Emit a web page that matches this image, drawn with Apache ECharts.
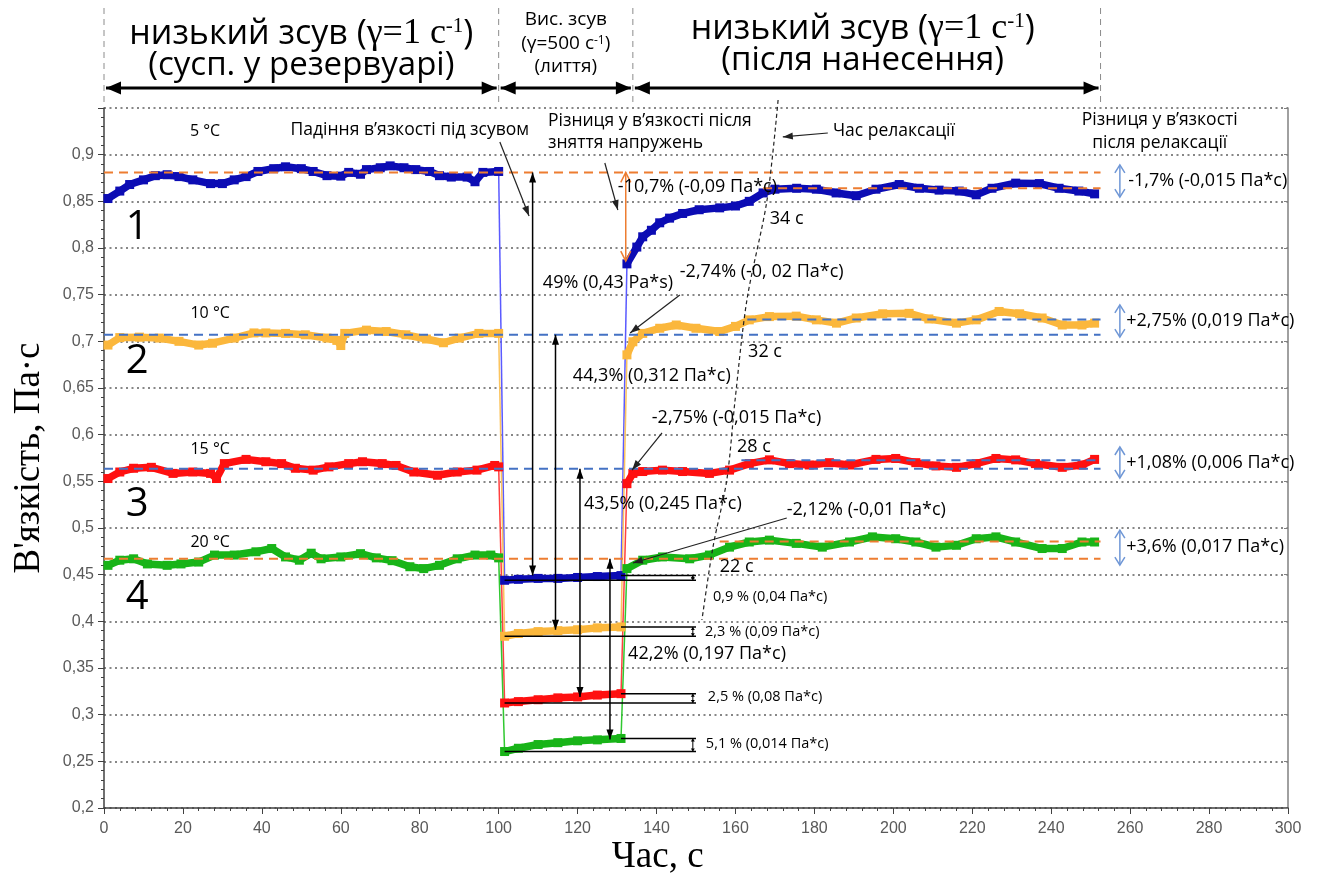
<!DOCTYPE html>
<html><head><meta charset="utf-8">
<script src="https://cdn.jsdelivr.net/npm/echarts@6/dist/echarts.min.js"></script>
<style>html,body{margin:0;padding:0;background:#fff}#c{width:1325px;height:877px}</style>
</head><body><div id="c"></div>
<script>
// ---------- DATA (time, s ; viscosity, Pa·s) ----------
// curve 1 (5 °C)
const blue1 = [[1,0.853],[4,0.861],[6.5,0.868],[10,0.873],[13,0.8775],[16,0.8785],[19,0.8765],[22.5,0.873],[27,0.869],[30,0.869],[33,0.873],[36,0.8765],[39,0.882],[43,0.885],[46,0.887],[50,0.885],[53,0.882],[56.5,0.8775],[60,0.877],[62,0.881],[65,0.879],[66.5,0.884],[70,0.886],[72.5,0.888],[76,0.886],[79,0.884],[82.5,0.882],[85,0.8775],[88,0.876],[92,0.876],[94,0.871],[96,0.881],[100,0.882]];
const blue2 = [[101.5,0.444],[105,0.445],[110,0.446],[115,0.446],[120,0.447],[125,0.448],[131,0.449]];
const blue3 = [[132.5,0.783],[135,0.801],[136.5,0.812],[138.7,0.819],[140.8,0.827],[143.3,0.832],[146.6,0.837],[150.8,0.841],[156,0.843],[160,0.845],[163.5,0.850],[167,0.859],[170,0.863],[175.5,0.864],[180.5,0.863],[185.5,0.859],[190.6,0.856],[195.6,0.863],[201.5,0.868],[206.6,0.864],[211.6,0.862],[216.7,0.861],[221,0.857],[225,0.864],[231,0.8695],[237,0.869],[242,0.864],[247,0.861],[251,0.858]];
// curve 2 (10 °C)
const yellow1 = [[1,0.696],[4,0.704],[9,0.7045],[14,0.7035],[19,0.700],[24,0.696],[27.5,0.698],[33,0.7035],[38,0.709],[41,0.709],[46,0.7085],[51,0.707],[56.5,0.7035],[59,0.701],[60,0.6955],[61,0.7085],[66.5,0.712],[71.5,0.7105],[76.5,0.707],[81.7,0.7025],[86,0.6985],[90,0.7035],[95,0.7085],[100,0.7085]];
const yellow2 = [[101.5,0.384],[105,0.387],[110,0.389],[115,0.390],[120,0.391],[125,0.393],[131,0.394]];
const yellow3 = [[132.5,0.6855],[134,0.6995],[136.5,0.7085],[140.8,0.714],[145,0.7175],[150,0.714],[156,0.7105],[160,0.716],[163.5,0.723],[168.6,0.7265],[175.4,0.727],[180.5,0.723],[185.6,0.7195],[190.6,0.725],[197.3,0.7295],[204,0.730],[209,0.724],[216,0.7195],[221,0.723],[226.8,0.732],[232,0.7295],[237.7,0.725],[242.8,0.7175],[247.8,0.7175],[251,0.7195]];
// curve 3 (15 °C)
const red1 = [[1,0.553],[4,0.560],[7.5,0.564],[12,0.565],[17.5,0.5585],[22.5,0.560],[27,0.5585],[28.5,0.553],[30.5,0.569],[36,0.5735],[41,0.571],[45,0.569],[48.5,0.564],[53,0.562],[57,0.5655],[62,0.569],[65.5,0.571],[70.5,0.569],[74,0.567],[78.5,0.560],[84.5,0.5565],[89.5,0.560],[94.5,0.562],[99,0.567],[100,0.5655]];
const red2 = [[101.5,0.3125],[105,0.314],[110,0.316],[115,0.318],[120,0.319],[125,0.321],[131,0.3225]];
const red3 = [[132.5,0.5475],[134,0.5585],[136.5,0.5605],[141.5,0.562],[146.6,0.5605],[153.4,0.5585],[158.5,0.562],[163.5,0.569],[168.6,0.573],[173.7,0.569],[178.7,0.5675],[183.8,0.570],[188.9,0.5675],[195.6,0.5735],[200.6,0.5745],[205.7,0.570],[210.8,0.5665],[216,0.565],[221,0.569],[226,0.5745],[231,0.573],[236,0.569],[242.8,0.565],[247.8,0.5675],[251,0.5735]];
// curve 4 (20 °C)
const green1 = [[1,0.460],[4,0.4655],[7.5,0.467],[11,0.4615],[16,0.460],[19.5,0.4615],[24,0.4635],[28,0.471],[33,0.471],[38.5,0.4745],[42.5,0.478],[46,0.469],[49.5,0.4655],[52.5,0.473],[55,0.467],[60,0.469],[65,0.4725],[69,0.468],[73,0.465],[77.5,0.4585],[81,0.4565],[85,0.460],[89.5,0.467],[94,0.471],[98,0.471],[100,0.468]];
const green2 = [[101.5,0.2605],[105,0.264],[110,0.268],[115,0.270],[120,0.272],[125,0.273],[131,0.2745]];
const green3 = [[132.5,0.4565],[136.5,0.4655],[141.5,0.469],[148.4,0.467],[153.4,0.471],[158.5,0.4795],[163.5,0.485],[168.6,0.487],[175.4,0.4835],[182,0.4795],[188.9,0.485],[194.7,0.4905],[200.6,0.4885],[205.7,0.485],[210.8,0.4795],[216,0.4815],[221,0.4885],[226,0.4905],[231,0.485],[237.7,0.478],[242.8,0.478],[247.8,0.485],[251,0.485]];

// reference (dashed) levels: [value, tStart, tEnd]
const refBlue   = [[0.881,0,252.5],[0.864,167,252.5]];
const refYellow = [[0.707,0,252.5],[0.7235,163,252.5]];
const refRed    = [[0.5635,0,252.5],[0.5725,161.5,252.5]];
const refGreen  = [[0.467,0,252.5],[0.4855,156,252.5]];

// relaxation-time curve
const relaxLine = [[170.8,0.9586],[168,0.8514],[162.9,0.7443],[159.9,0.6371],[157.8,0.5514],[154.3,0.4796],[151.5,0.4014]];

// phase boundaries (s)
const phaseBounds = [0, 100, 134, 252.5];

// drop arrows: [t, from, to]
const dropArrows = [[108.6,0.881,0.449],[114.4,0.707,0.391],[120.6,0.5635,0.319],[128.2,0.467,0.2735]];
// pointer arrows: [t1,v1,t2,v2] (head at 2)
const pointerArrows = [[100.3,0.9136,107.7,0.8343],[126.9,0.8911,130.2,0.8407],[183.4,0.9232,172,0.919],[145.9,0.7496,133.3,0.7089],[141.4,0.6018,133.8,0.5621],[173,0.5107,134,0.4625]];
// orange recovery arrow [t, from, to]
const recoveryArrow = [132.2, 0.881, 0.786];
// right-side arrows [t, from, to]
const rightArrows = [[257.4,0.889,0.8546],[257.4,0.739,0.7046],[257.4,0.5868,0.5536],[257.4,0.4978,0.4603]];
const bracketEnd = 150;

// annotation texts: [text, t, v, size, align]
const notes = [
 ['5 °C', 25.6, 0.9254, 16, 'center'],
 ['10 °C', 26.9, 0.7303, 16, 'center'],
 ['15 °C', 26.9, 0.5846, 16, 'center'],
 ['20 °C', 26.9, 0.485, 16, 'center'],
 ['Падіння в’язкості під зсувом', 77.5, 0.9264, 17.5, 'center'],
 ['Різниця у в’язкості після', 112.5, 0.936, 17.5, 'left'],
 ['зняття напружень', 112.5, 0.9125, 17.5, 'left'],
 ['Час релаксації', 184.7, 0.9254, 17.5, 'left'],
 ['Різниця у в’язкості', 267.5, 0.937, 17.5, 'center'],
 ['після релаксації', 267.5, 0.9125, 17.5, 'center'],
 ['-10,7% (-0,09 Па*с)', 130.2, 0.8654, 18, 'left'],
 ['49% (0,43 Pa*s)', 111.2, 0.7625, 18, 'left'],
 ['-2,74% (-0, 02 Па*с)', 145.9, 0.7743, 18, 'left'],
 ['44,3% (0,312 Па*с)', 118.8, 0.6629, 18, 'left'],
 ['-2,75% (-0,015 Па*с)', 138.8, 0.6179, 18, 'left'],
 ['43,5% (0,245 Па*с)', 121.6, 0.5257, 18, 'left'],
 ['-2,12% (-0,01 Па*с)', 173, 0.5193, 18, 'left'],
 ['42,2% (0,197 Па*с)', 132.8, 0.365, 18, 'left'],
 ['0,9 % (0,04 Па*с)', 154.3, 0.426, 14.5, 'left'],
 ['2,3 % (0,09 Па*с)', 152.3, 0.3886, 14.5, 'left'],
 ['2,5 % (0,08 Па*с)', 153, 0.319, 14.5, 'left'],
 ['5,1 % (0,014 Па*с)', 152.5, 0.2686, 14.5, 'left'],
 ['34 с', 168.7, 0.831, 18, 'left'],
 ['32 с', 163.2, 0.6886, 18, 'left'],
 ['28 с', 160.4, 0.5868, 18, 'left'],
 ['22 с', 156, 0.4582, 18, 'left'],
 ['-1,7% (-0,015 Па*с)', 259.5, 0.8718, 18, 'left'],
 ['+2,75% (0,019 Па*с)', 259, 0.7218, 18, 'left'],
 ['+1,08% (0,006 Па*с)', 259, 0.5696, 18, 'left'],
 ['+3,6% (0,017 Па*с)', 259, 0.4796, 18, 'left'],
 ['1', 8.4, 0.8214, 40, 'center'],
 ['2', 8.4, 0.6779, 40, 'center'],
 ['3', 8.4, 0.5246, 40, 'center'],
 ['4', 8.4, 0.425, 40, 'center']
];
const xName = 'Час, с', xNameAt = 140.3;
const yName = 'В\'язкість, Па·с';

// ---------- CHART ----------
const FONT = "'Open Sans','Noto Sans',sans-serif";
const SERIF = "'Liberation Serif','DejaVu Serif',serif";
const ORANGE = '#ed7d31', DBLUE = '#4472c4';
const curves = [
  {segs:[blue1,blue2,blue3], color:'#0c0cb4', thin:'#5a5aff', refs:refBlue, refColor:ORANGE},
  {segs:[yellow1,yellow2,yellow3], color:'#fbb73c', thin:'#fbc45e', refs:refYellow, refColor:DBLUE},
  {segs:[red1,red2,red3], color:'#ff1010', thin:'#ff4040', refs:refRed, refColor:DBLUE},
  {segs:[green1,green2,green3], color:'#18b418', thin:'#30c830', refs:refGreen, refColor:ORANGE}
];
const fmt = v => { let s = (+v).toFixed(2); if (s.endsWith('0')) s = s.slice(0,-1); return s.replace('.', ','); };

const series = [];
curves.forEach(c => {
  c.segs.forEach(seg => series.push({type:'line', data:seg, symbol:'rect', symbolSize:9, showAllSymbol:true,
    lineStyle:{width:7.5, color:c.color}, itemStyle:{color:c.color}, z:4, silent:true, animation:false}));
  const s1 = c.segs[0], s2 = c.segs[1], s3 = c.segs[2];
  [[s1[s1.length-1], s2[0]], [s2[s2.length-1], s3[0]]].forEach(d =>
    series.push({type:'line', data:d, symbol:'none', lineStyle:{width:1.5, color:c.thin}, z:3, silent:true, animation:false}));
  c.refs.forEach(r => series.push({type:'line', data:[[r[1], r[0]], [r[2], r[0]]], symbol:'none',
    lineStyle:{width:2, color:c.refColor, type:[9,6]}, z:5, silent:true, animation:false}));
});
series.push({type:'line', data:relaxLine, symbol:'none', smooth:0.3, clip:false,
  lineStyle:{width:1.2, color:'#222', type:[4,3]}, z:6, silent:true, animation:false});

const chart = echarts.init(document.getElementById('c'));
chart.setOption({
  animation:false,
  backgroundColor:'#fff',
  grid:{left:104, right:37, top:108, bottom:69},
  xAxis:{type:'value', min:0, max:300, interval:20,
    axisLine:{onZero:false, lineStyle:{color:'#404040', width:1.5}},
    axisTick:{length:6, lineStyle:{color:'#404040'}},
    minorTick:{show:true, splitNumber:5, length:3, lineStyle:{color:'#404040'}},
    splitLine:{show:false},
    axisLabel:{color:'#595959', fontSize:16, fontFamily:'Liberation Sans', margin:13}},
  yAxis:[{type:'value', min:0.2, max:0.95, interval:0.05,
    axisLine:{show:true, onZero:false, lineStyle:{color:'#404040', width:1.5}},
    axisTick:{show:true, length:6, lineStyle:{color:'#404040'}},
    minorTick:{show:true, splitNumber:5, length:3, lineStyle:{color:'#404040'}},
    splitLine:{show:true, lineStyle:{type:[2,3.5], color:'#606060', width:1.5}},
    axisLabel:{formatter:fmt, showMaxLabel:false, color:'#595959', fontSize:16, fontFamily:'Liberation Sans', margin:10},
    name:yName, nameLocation:'middle', nameGap:56, nameRotate:90,
    nameTextStyle:{fontFamily:SERIF, fontSize:37, color:'#000'}},
   {type:'value', min:0.2, max:0.95, interval:0.05, position:'right',
    axisLine:{show:true, onZero:false, lineStyle:{color:'#808080', width:1.5}},
    axisTick:{show:true, inside:true, length:4, lineStyle:{color:'#808080'}},
    axisLabel:{show:false}, splitLine:{show:false}}],
  series: series
});

// ---------- ANNOTATIONS ----------
const P = (t, v) => chart.convertToPixel({xAxisIndex:0, yAxisIndex:0}, [t, v]);
const G = [];
function seg(a, b, stroke, w, dash) {
  G.push({type:'line', silent:true, z:10, shape:{x1:a[0], y1:a[1], x2:b[0], y2:b[1]},
    style:{stroke:stroke, lineWidth:w, lineDash:dash || null}});
}
function head(tip, from, len, wid, color, open, lw) {
  const dx = tip[0]-from[0], dy = tip[1]-from[1], L = Math.hypot(dx, dy) || 1;
  const ux = dx/L, uy = dy/L, bx = tip[0]-ux*len, by = tip[1]-uy*len;
  const l = [bx - uy*wid/2, by + ux*wid/2], r = [bx + uy*wid/2, by - ux*wid/2];
  if (open) G.push({type:'polyline', silent:true, z:10, shape:{points:[l, tip, r]}, style:{stroke:color, lineWidth:lw || 1.5, fill:null}});
  else G.push({type:'polygon', silent:true, z:10, shape:{points:[l, tip, r]}, style:{fill:color}});
}
function arrow(a, b, o) {
  seg(a, b, o.color, o.w);
  head(b, a, o.len, o.wid, o.color, o.open, o.w);
  if (o.both) head(a, b, o.len, o.wid, o.color, o.open, o.w);
}
function txt(x, y, str, size, align, family) {
  G.push({type:'text', silent:true, z:12, x:x, y:y,
    style:{text:str, fontSize:size, fontFamily:family || FONT, fill:'#000', align:align || 'left', verticalAlign:'middle'}});
}

// header
const xOf = t => P(t, 0.95)[0];
phaseBounds.forEach(b => seg([xOf(b), 8], [xOf(b), 106], '#8c8c8c', 1, [6, 5]));
for (let i = 0; i < phaseBounds.length - 1; i++) {
  arrow([xOf(phaseBounds[i]) + 2, 88], [xOf(phaseBounds[i+1]) - 2, 88], {color:'#000', w:3, len:15, wid:13, both:true});
}
const richBig = {s:{fontSize:34, fontFamily:FONT}, m:{fontSize:36, fontFamily:SERIF}, p:{fontSize:21, fontFamily:SERIF, verticalAlign:'top'}};
const richSmall = {s:{fontSize:19, fontFamily:FONT}, p:{fontSize:12, fontFamily:FONT, verticalAlign:'top'}};
const c1 = xOf((phaseBounds[0] + phaseBounds[1]) / 2);
const c2 = xOf((phaseBounds[1] + phaseBounds[2]) / 2);
const c3 = xOf((phaseBounds[2] + phaseBounds[3]) / 2) - 4;
G.push({type:'text', silent:true, z:12, x:c1, y:34, style:{text:'{s|низький зсув (}{m|γ=1 с}{p|-1}{s|)}', rich:richBig, align:'center', verticalAlign:'middle'}});
txt(c1, 66, '(сусп. у резервуарі)', 33, 'center');
G.push({type:'text', silent:true, z:12, x:c3, y:29, style:{text:'{s|низький зсув (}{m|γ=1 с}{p|-1}{s|)}', rich:richBig, align:'center', verticalAlign:'middle'}});
txt(c3, 61, '(після нанесення)', 33, 'center');
txt(c2, 20, 'Вис. зсув', 19, 'center');
G.push({type:'text', silent:true, z:12, x:c2, y:44, style:{text:'{s|(γ=500 с}{p|-1}{s|)}', rich:richSmall, align:'center', verticalAlign:'middle'}});
txt(c2, 67, '(лиття)', 19, 'center');

// x-axis title
txt(xOf(xNameAt), 857, xName, 37, 'center', SERIF);

// black double arrows for viscosity drop
dropArrows.forEach(a => arrow(P(a[0], a[1]), P(a[0], a[2]), {color:'#000', w:1.5, len:10, wid:7, both:true}));
// pointer arrows
pointerArrows.forEach(a => arrow(P(a[0], a[1]), P(a[2], a[3]), {color:'#222', w:1.2, len:10, wid:7}));
// orange recovery arrow
arrow(P(recoveryArrow[0], recoveryArrow[1]), P(recoveryArrow[0], recoveryArrow[2]), {color:ORANGE, w:1.5, len:10, wid:10, both:true, open:true});
// right-side blue arrows
rightArrows.forEach(a => arrow(P(a[0], a[1]), P(a[0], a[2]), {color:'#6f97d6', w:1.5, len:8, wid:10, both:true, open:true}));
// brackets after high-shear segments
curves.forEach(c => {
  const s2 = c.segs[1];
  const first = s2[0], last = s2[s2.length-1];
  seg(P(first[0], first[1]), P(bracketEnd, first[1]), '#000', 1.5);
  seg(P(last[0], last[1]), P(bracketEnd, last[1]), '#000', 1.5);
  const top = P(bracketEnd - 0.8, last[1]), bot = P(bracketEnd - 0.8, first[1]);
  arrow(top, bot, {color:'#000', w:1, len:3, wid:4, both:true});
});
// texts
notes.forEach(n => { const p = P(n[1], n[2]); txt(p[0], p[1], n[0], n[3], n[4]); });

chart.setOption({graphic: G});
</script>
</body></html>
